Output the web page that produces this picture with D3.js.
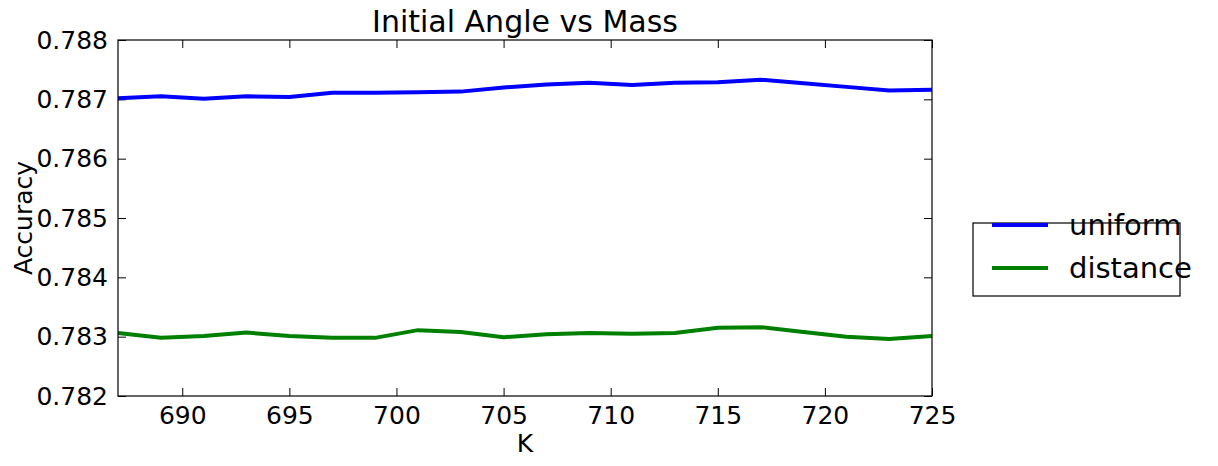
<!DOCTYPE html>
<html><head><meta charset="utf-8">
<script src="https://cdnjs.cloudflare.com/ajax/libs/d3/7.8.5/d3.min.js"></script>
<style>body{margin:0;background:#fff}text{font-family:"DejaVu Sans",sans-serif}</style>
</head><body>
<svg id="chart" width="1218" height="466"></svg>
<script>
var kValues = [687,689,691,693,695,697,699,701,703,705,707,709,711,713,715,717,719,721,723,725];
var uniform = [0.78702,0.78705,0.78701,0.78705,0.78704,0.78711,0.78711,0.78712,0.78713,0.78720,0.78725,0.78728,0.78724,0.78728,0.78729,0.78733,0.78727,0.78721,0.78715,0.78716];
var distance = [0.78306,0.78298,0.78301,0.78307,0.78301,0.78298,0.78298,0.78311,0.78308,0.78299,0.78304,0.78306,0.78305,0.78306,0.78315,0.78316,0.78308,0.78300,0.78296,0.78301];
var xTicks = [690,695,700,705,710,715,720,725];
var yTicks = [0.782,0.783,0.784,0.785,0.786,0.787,0.788];
var series = [{name:"uniform", values:uniform, color:"#0000ff"},{name:"distance", values:distance, color:"#008000"}];

var svg = d3.select("#chart");
var L = 118, R = 932, T = 40, B = 396;
var x = d3.scaleLinear().domain([687,725]).range([L,R]);
var y = d3.scaleLinear().domain([0.782,0.788]).range([B,T]);

function styleAxis(g){
  g.select(".domain").remove();
  g.selectAll(".tick line").attr("stroke","#000");
  g.selectAll("text").attr("font-size",25).attr("fill","#000");
}
svg.append("g").attr("transform","translate(0,"+B+")")
  .call(d3.axisBottom(x).tickValues(xTicks).tickSizeInner(-8).tickPadding(10)).call(styleAxis);
svg.append("g").attr("transform","translate(0,"+T+")")
  .call(d3.axisTop(x).tickValues(xTicks).tickSizeInner(-8).tickFormat("")).call(styleAxis);
svg.append("g").attr("transform","translate("+L+",0)")
  .call(d3.axisLeft(y).tickValues(yTicks).tickSizeInner(-8).tickPadding(10).tickFormat(d3.format(".3f"))).call(styleAxis);
svg.append("g").attr("transform","translate("+R+",0)")
  .call(d3.axisRight(y).tickValues(yTicks).tickSizeInner(-8).tickFormat("")).call(styleAxis);

var line = d3.line().x(function(d,i){return x(kValues[i]);}).y(function(d){return y(d);});
series.forEach(function(s){
  svg.append("path").attr("d",line(s.values)).attr("fill","none").attr("stroke",s.color).attr("stroke-width",4);
});
svg.append("rect").attr("x",L).attr("y",T).attr("width",R-L).attr("height",B-T).attr("fill","none").attr("stroke","#000").attr("stroke-width",1.2);

svg.append("text").attr("x",(L+R)/2).attr("y",32).attr("text-anchor","middle").attr("font-size",30).text("Initial Angle vs Mass");
svg.append("text").attr("x",(L+R)/2).attr("y",452).attr("text-anchor","middle").attr("font-size",25).text("K");
svg.append("text").attr("transform","translate(32,"+((T+B)/2)+") rotate(-90)").attr("text-anchor","middle").attr("font-size",25).text("Accuracy");

var lg = svg.append("g");
lg.append("rect").attr("x",973).attr("y",223).attr("width",207).attr("height",73).attr("fill","#fff").attr("stroke","#000").attr("stroke-width",1.2);
series.forEach(function(s,i){
  var yy = 225 + i*43;
  lg.append("line").attr("x1",992).attr("x2",1048).attr("y1",yy).attr("y2",yy).attr("stroke",s.color).attr("stroke-width",4);
  lg.append("text").attr("x",1069).attr("y",yy).attr("dy","0.35em").attr("font-size",29).text(s.name);
});
</script>
</body></html>
